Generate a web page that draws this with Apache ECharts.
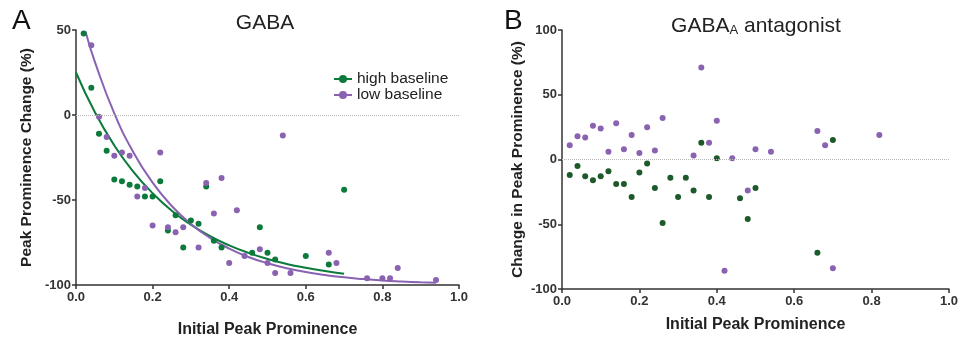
<!DOCTYPE html>
<html><head><meta charset="utf-8">
<script src="https://cdn.jsdelivr.net/npm/echarts@6/dist/echarts.min.js"></script>
<style>html,body{margin:0;padding:0;background:#fff}#c{width:961px;height:343px}</style>
</head><body><div id="c"></div>
<script>
// Panel A: GABA
const gabaHigh = [[0.02,48],[0.04,16],[0.06,-11],[0.08,-21],[0.10,-38],[0.12,-39],[0.14,-41],[0.16,-42],[0.18,-48],[0.20,-48],[0.22,-39],[0.24,-68],[0.26,-59],[0.28,-78],[0.30,-62],[0.32,-64],[0.34,-42],[0.36,-74],[0.38,-78],[0.46,-81],[0.48,-66],[0.50,-81],[0.52,-85],[0.60,-83],[0.66,-88],[0.70,-44]];
const gabaLow = [[0.04,41],[0.06,-1],[0.08,-13],[0.10,-24],[0.12,-22],[0.14,-24],[0.16,-48],[0.18,-43],[0.20,-65],[0.22,-22],[0.24,-66],[0.26,-69],[0.28,-66],[0.32,-78],[0.34,-40],[0.36,-58],[0.38,-37],[0.40,-87],[0.42,-56],[0.44,-83],[0.48,-79],[0.50,-87],[0.52,-93],[0.54,-12],[0.56,-93],[0.66,-81],[0.68,-87],[0.76,-96],[0.80,-96],[0.82,-96],[0.84,-90],[0.94,-97]];
const highFitX = [0.00,0.05,0.10,0.15,0.20,0.25,0.30,0.35,0.40,0.45,0.50,0.55,0.60,0.65,0.70];
const highFitY = [25,1.3,-17.9,-33.4,-46,-56.3,-64.5,-71.3,-76.7,-81.1,-84.7,-87.6,-89.9,-91.8,-93.4];
const lowFitX = [0.025,0.05,0.10,0.15,0.20,0.25,0.30,0.35,0.40,0.45,0.50,0.55,0.60,0.65,0.70,0.75,0.80,0.85,0.90,0.94];
const lowFitY = [49,30.8,1,-22,-39.8,-53.5,-64.1,-72.3,-78.6,-83.5,-87.2,-90.1,-92.4,-94.1,-95.5,-96.5,-97.3,-97.9,-98.4,-98.7];
// Panel B: GABA_A antagonist
const antHigh = [[0.02,-12],[0.04,-5],[0.06,-13],[0.08,-16],[0.10,-13],[0.12,-9],[0.14,-19],[0.16,-19],[0.18,-29],[0.20,-10],[0.22,-3],[0.24,-22],[0.26,-49],[0.28,-14],[0.30,-29],[0.32,-14],[0.34,-24],[0.36,13],[0.38,-29],[0.40,1],[0.46,-30],[0.48,-46],[0.50,-22],[0.66,-72],[0.70,15]];
const antLow = [[0.02,11],[0.04,18],[0.06,17],[0.08,26],[0.10,24],[0.12,6],[0.14,28],[0.16,8],[0.18,19],[0.20,5],[0.22,25],[0.24,7],[0.26,32],[0.34,3],[0.36,71],[0.38,13],[0.40,30],[0.42,-86],[0.44,1],[0.48,-24],[0.50,8],[0.54,6],[0.66,22],[0.68,11],[0.70,-84],[0.82,19]];
const xTicks = [0,0.2,0.4,0.6,0.8,1.0];
const yTicksA = [-100,-50,0,50];
const yTicksB = [-100,-50,0,50,100];

const GREEN_A = '#0b7a3a', GREEN_B = '#1d5a2a', PURPLE = '#8a62b2';
const FONT = 'Liberation Sans, Arial, sans-serif';
const zip = (xs, ys) => xs.map((x, i) => [x, ys[i]]);

function xAxis(gi, gap) {
  return {
    type: 'value', gridIndex: gi, min: xTicks[0], max: xTicks[xTicks.length-1], interval: 0.2,
    name: 'Initial Peak Prominence', nameLocation: 'middle', nameGap: gap,
    nameTextStyle: {fontFamily: FONT, fontWeight: 'bold', fontSize: 16, color: '#222'},
    axisLine: {show: true, onZero: false, lineStyle: {color: '#333', width: 1.5}},
    axisTick: {show: true, length: 4, lineStyle: {color: '#333', width: 1.5}},
    axisLabel: {fontFamily: FONT, fontWeight: 'bold', fontSize: 13, color: '#333', margin: 6, formatter: v => v.toFixed(1)},
    splitLine: {show: false}
  };
}
function yAxis(gi, ticks, name, gap) {
  return {
    type: 'value', gridIndex: gi, min: ticks[0], max: ticks[ticks.length-1], interval: 50,
    name: name, nameLocation: 'middle', nameGap: gap,
    nameTextStyle: {fontFamily: FONT, fontWeight: 'bold', fontSize: 15.5, color: '#222'},
    axisLine: {show: true, onZero: false, lineStyle: {color: '#333', width: 1.5}},
    axisTick: {show: true, length: 4, lineStyle: {color: '#333', width: 1.5}},
    axisLabel: {fontFamily: FONT, fontWeight: 'bold', fontSize: 13, color: '#333', margin: 5},
    splitLine: {show: false}
  };
}
const zeroLine = {
  silent: true, symbol: 'none', label: {show: false},
  lineStyle: {type: 'dotted', color: '#b8b8b8', width: 1},
  data: [{yAxis: 0}]
};
const dot = c => ({color: c, opacity: 1});

const chart = echarts.init(document.getElementById('c'), null, {renderer: 'canvas'});
chart.setOption({
  animation: false,
  backgroundColor: '#fff',
  textStyle: {fontFamily: FONT},
  title: [
    {text: 'A', left: 7, top: 2, textStyle: {fontFamily: FONT, fontSize: 28, fontWeight: 'normal', color: '#111'}},
    {text: 'GABA', left: 260, top: 8, textAlign: 'center', textStyle: {fontFamily: FONT, fontSize: 21, fontWeight: 'normal', color: '#222'}},
    {text: 'B', left: 499, top: 2, textStyle: {fontFamily: FONT, fontSize: 28, fontWeight: 'normal', color: '#111'}},
    {text: '{m|GABA}{s|A}{m| antagonist}', left: 751, top: 8, textAlign: 'center',
     textStyle: {fontWeight: 'normal', rich: {
       m: {fontFamily: FONT, fontSize: 21, fontWeight: 'normal', color: '#222', verticalAlign: 'bottom', lineHeight: 24},
       s: {fontFamily: FONT, fontSize: 13, fontWeight: 'normal', color: '#222', verticalAlign: 'bottom', lineHeight: 17}}}}
  ],
  legend: {
    left: 328, top: 66, orient: 'vertical', itemGap: 0, itemWidth: 18, itemHeight: 10,
    data: ['high baseline', 'low baseline'],
    textStyle: {fontFamily: FONT, fontSize: 15.5, color: '#222', padding: [0,0,0,0]}
  },
  grid: [
    {left: 76, right: 502, top: 30, bottom: 58},
    {left: 562, right: 12, top: 30, bottom: 54}
  ],
  xAxis: [xAxis(0, 37), xAxis(1, 28)],
  yAxis: [yAxis(0, yTicksA, 'Peak Prominence Change (%)', 41), yAxis(1, yTicksB, 'Change in Peak Prominence (%)', 36)],
  series: [
    {name: 'high baseline', type: 'line', xAxisIndex: 0, yAxisIndex: 0, data: zip(highFitX, highFitY), smooth: true,
     symbol: 'circle', symbolSize: 6, showSymbol: false, lineStyle: {color: GREEN_A, width: 2}, itemStyle: dot(GREEN_A), z: 3, markLine: zeroLine},
    {name: 'low baseline', type: 'line', xAxisIndex: 0, yAxisIndex: 0, data: zip(lowFitX, lowFitY), smooth: true,
     symbol: 'circle', symbolSize: 6, showSymbol: false, lineStyle: {color: PURPLE, width: 2}, itemStyle: dot(PURPLE), z: 3},
    {name: 'high baseline pts', type: 'scatter', xAxisIndex: 0, yAxisIndex: 0, data: gabaHigh, symbolSize: 6, itemStyle: dot(GREEN_A), z: 4},
    {name: 'low baseline pts', type: 'scatter', xAxisIndex: 0, yAxisIndex: 0, data: gabaLow, symbolSize: 6, itemStyle: dot(PURPLE), z: 4},
    {name: 'ant high', type: 'scatter', xAxisIndex: 1, yAxisIndex: 1, data: antHigh, symbolSize: 6, itemStyle: dot(GREEN_B), z: 4, markLine: zeroLine},
    {name: 'ant low', type: 'scatter', xAxisIndex: 1, yAxisIndex: 1, data: antLow, symbolSize: 6, itemStyle: dot(PURPLE), z: 4}
  ]
});
</script></body></html>
